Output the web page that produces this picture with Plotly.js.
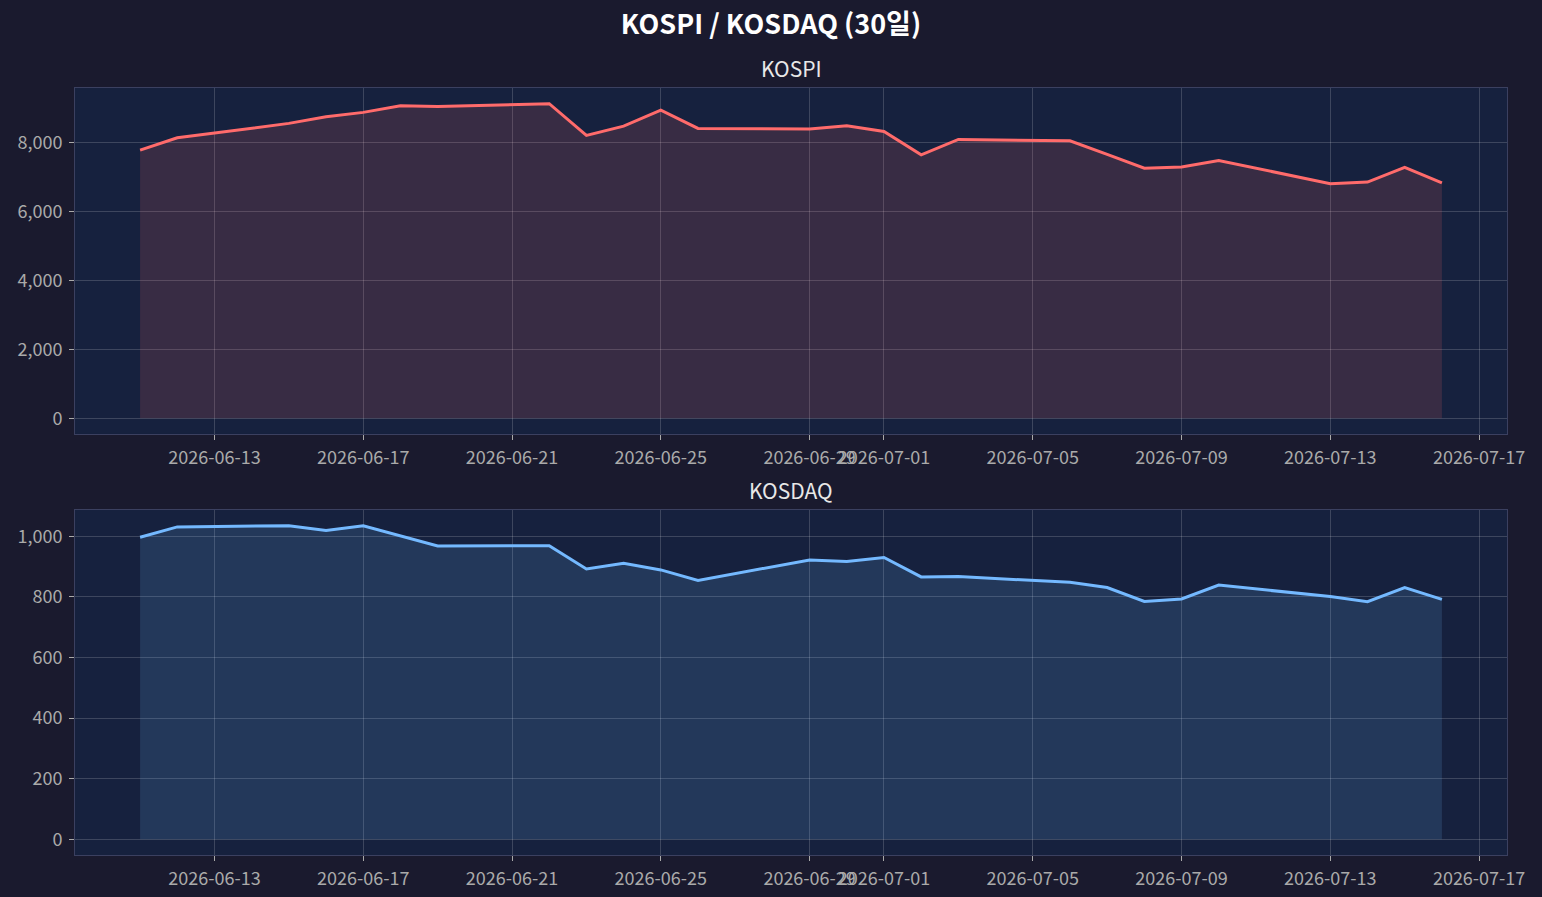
<!DOCTYPE html>
<html>
<head>
<meta charset="utf-8">
<script src="https://cdn.plot.ly/plotly-3.0.1.min.js"></script>
<style>
  html, body { margin: 0; padding: 0; background: #1a1a2e; }
  #chart { width: 1542px; height: 897px; }
</style>
</head>
<body>
<div id="chart"></div>
<script>
// trading days
const dates = [
  '2026-06-11', '2026-06-12', '2026-06-15', '2026-06-16', '2026-06-17', '2026-06-18', '2026-06-19',
  '2026-06-22', '2026-06-23', '2026-06-24', '2026-06-25', '2026-06-26',
  '2026-06-29', '2026-06-30', '2026-07-01', '2026-07-02', '2026-07-03',
  '2026-07-06', '2026-07-07', '2026-07-08', '2026-07-09', '2026-07-10',
  '2026-07-13', '2026-07-14', '2026-07-15', '2026-07-16'
];

const kospi = [
  7773, 8131, 8550, 8743, 8869, 9063, 9043,
  9120, 8200, 8472, 8937, 8404,
  8384, 8481, 8316, 7637, 8084,
  8044, 7650, 7249, 7287, 7473,
  6803, 6850, 7278, 6822
];

const kosdaq = [
  997, 1031, 1035, 1019, 1035, 1002, 968,
  969, 892, 911, 889, 854,
  922, 917, 930, 866, 867,
  848, 831, 785, 793, 839,
  801, 784, 831, 792
];

const xTicks = [
  '2026-06-13', '2026-06-17', '2026-06-21', '2026-06-25', '2026-06-29',
  '2026-07-01', '2026-07-05', '2026-07-09', '2026-07-13', '2026-07-17'
];
const kospiTicks = [0, 2000, 4000, 6000, 8000];
const kosdaqTicks = [0, 200, 400, 600, 800, 1000];

const FONT = '"Noto Sans CJK KR", "Noto Sans", sans-serif';
const tickColor = '#aaaaaa';
const spineColor = '#3b4060';
const gridColor = 'rgba(255,255,255,0.17)';

// matplotlib-like 5% padding
const pad = (lo, hi) => [lo - (hi - lo) * 0.05, hi + (hi - lo) * 0.05];

const trace = (y, color, fill, axis) => ({
  x: dates,
  y: y,
  type: 'scatter',
  mode: 'lines',
  line: { color: color, width: 3 },
  fill: 'tozeroy',
  fillcolor: fill,
  xaxis: 'x' + axis,
  yaxis: 'y' + axis,
  hoverinfo: 'x+y',
  showlegend: false
});

const xAxis = (anchor) => ({
  anchor: anchor,
  type: 'date',
  range: ['2026-06-09 06:00', '2026-07-17 18:00'],
  tickmode: 'array',
  tickvals: xTicks,
  ticktext: xTicks,
  tickangle: 0,
  showgrid: true,
  gridcolor: gridColor,
  gridwidth: 1,
  showline: true,
  mirror: true,
  linecolor: spineColor,
  linewidth: 1,
  ticks: 'outside',
  ticklen: 5,
  tickcolor: tickColor,
  ticklabelstandoff: 2,
  tickfont: { family: FONT, size: 18, color: tickColor },
  zeroline: false
});

const yAxis = (anchor, domain, ticks, maxVal) => ({
  anchor: anchor,
  domain: domain,
  range: pad(0, maxVal),
  tickmode: 'array',
  tickvals: ticks,
  ticktext: ticks.map(v => v.toLocaleString('en-US')),
  showgrid: true,
  gridcolor: gridColor,
  gridwidth: 1,
  showline: true,
  mirror: true,
  linecolor: spineColor,
  linewidth: 1,
  ticks: 'outside',
  ticklen: 5,
  tickcolor: tickColor,
  ticklabelstandoff: 3,
  tickfont: { family: FONT, size: 18, color: tickColor },
  zeroline: false
});

const data = [
  trace(kospi, '#ff6b6b', 'rgba(255,107,107,0.15)', ''),
  trace(kosdaq, '#74b9ff', 'rgba(116,185,255,0.15)', '2')
];

const subTitle = (text, yref) => ({
  text: text,
  xref: 'paper',
  yref: yref,
  x: 0.5,
  y: 1,
  xanchor: 'center',
  yanchor: 'bottom',
  yshift: 3,
  showarrow: false,
  font: { family: FONT, size: 21, color: '#e8e8e8' }
});

const layout = {
  width: 1542,
  height: 897,
  paper_bgcolor: '#1a1a2e',
  plot_bgcolor: '#16213e',
  margin: { l: 75, r: 35, t: 88, b: 42 },
  title: {
    text: '<b>KOSPI / KOSDAQ (30일)</b>',
    x: 0.5,
    xref: 'container',
    y: 1 - 25 / 897,
    yref: 'container',
    yanchor: 'middle',
    font: { family: FONT, size: 27, color: '#ffffff' }
  },
  xaxis: xAxis('y'),
  yaxis: yAxis('x', [0.5489, 1], kospiTicks, Math.max(...kospi)),
  xaxis2: xAxis('y2'),
  yaxis2: yAxis('x2', [0, 0.4498], kosdaqTicks, Math.max(...kosdaq)),
  annotations: [
    subTitle('KOSPI', 'y domain'),
    subTitle('KOSDAQ', 'y2 domain')
  ]
};

Plotly.newPlot('chart', data, layout, { displayModeBar: false, staticPlot: true });
</script>
</body>
</html>
